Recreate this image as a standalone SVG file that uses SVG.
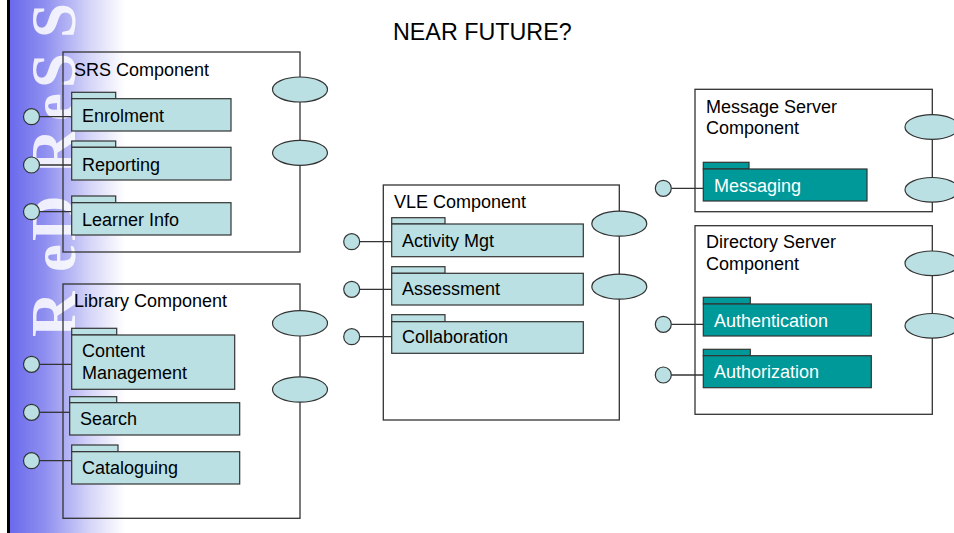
<svg xmlns="http://www.w3.org/2000/svg" width="954" height="533" viewBox="0 0 954 533">
<defs>
<linearGradient id="band" x1="0" y1="0" x2="1" y2="0">
<stop offset="0" stop-color="#6a6aec"/>
<stop offset="0.3" stop-color="#8e8ef0"/>
<stop offset="0.7" stop-color="#d6d6f8"/>
<stop offset="1" stop-color="#ffffff"/>
</linearGradient>
<style>
.box{fill:none;stroke:#333;stroke-width:1.3}
.pk{fill:#bbe0e3;stroke:#333;stroke-width:1.2}
.pkd{fill:#009999;stroke:#333;stroke-width:1.2}
.el{fill:#bbe0e3;stroke:#333;stroke-width:1.2}
.port{fill:#bbe0e3;stroke:#333;stroke-width:1.2}
.t{font-family:"Liberation Sans",Arial,sans-serif;font-size:18px;fill:#000}
.tw{font-family:"Liberation Sans",Arial,sans-serif;font-size:18px;fill:#fff}
.cn{stroke:#333;stroke-width:1.3;fill:none}
</style>
</defs>
<rect x="0" y="0" width="954" height="533" fill="#fff"/>
<g id="band-deco">
<rect x="10" y="0" width="115" height="533" fill="url(#band)"/>
<rect x="7" y="0" width="3" height="533" fill="#000"/>
<text transform="translate(75,0) rotate(-90)" font-family="'Liberation Serif','Times New Roman',serif" font-weight="bold" font-size="63" fill="#fff" fill-opacity="0.85" x="-337 -272 -241 -174 -121 -88 -38" y="0">ReDReSS</text>
</g>
<text id="title" x="393" y="40" font-family="'Liberation Sans',Arial,sans-serif" font-size="23.3" fill="#000">NEAR FUTURE?</text>

<g id="connectors">
<line class="cn" x1="39.5" y1="116.7" x2="71.7" y2="116.7"/>
<line class="cn" x1="39.5" y1="165" x2="71.7" y2="165"/>
<line class="cn" x1="39.5" y1="211.7" x2="71.7" y2="211.7"/>
<line class="cn" x1="39.5" y1="364.3" x2="71.7" y2="364.3"/>
<line class="cn" x1="39.5" y1="412.3" x2="69.7" y2="412.3"/>
<line class="cn" x1="39.5" y1="460.7" x2="71.7" y2="460.7"/>
<line class="cn" x1="359.7" y1="241.7" x2="391.7" y2="241.7"/>
<line class="cn" x1="359.7" y1="289.3" x2="391.7" y2="289.3"/>
<line class="cn" x1="359.7" y1="336.7" x2="391.7" y2="336.7"/>
<line class="cn" x1="671.3" y1="188.3" x2="703.3" y2="188.3"/>
<line class="cn" x1="671.3" y1="324.3" x2="703.3" y2="324.3"/>
<line class="cn" x1="671.3" y1="375" x2="703.3" y2="375"/>
</g>

<g id="srs">
<rect class="box" x="63" y="52" width="237" height="200"/>
<text class="t" x="74" y="76">SRS Component</text>
<ellipse class="el" cx="300" cy="89.5" rx="27.5" ry="12.5"/>
<ellipse class="el" cx="300" cy="152.8" rx="27.5" ry="12.5"/>
<g id="enrolment">
<rect class="pk" x="71.7" y="92.3" width="44" height="6.4"/>
<rect class="pk" x="71.7" y="98.7" width="159.3" height="32.3"/>
<text class="t" x="82" y="121.7">Enrolment</text>
<circle class="port" cx="31.5" cy="116.7" r="8"/>
</g>
<g id="reporting">
<rect class="pk" x="71.7" y="141" width="44" height="6.3"/>
<rect class="pk" x="71.7" y="147.3" width="159.3" height="32.7"/>
<text class="t" x="82" y="170.7">Reporting</text>
<circle class="port" cx="31.5" cy="165" r="8"/>
</g>
<g id="learner-info">
<rect class="pk" x="71.7" y="196" width="44" height="6.7"/>
<rect class="pk" x="71.7" y="202.7" width="159.3" height="32.3"/>
<text class="t" x="82" y="225.7">Learner Info</text>
<circle class="port" cx="31.5" cy="211.7" r="8"/>
</g>
</g>

<g id="library">
<rect class="box" x="63" y="284" width="237" height="234.3"/>
<text class="t" x="74" y="307.3">Library Component</text>
<ellipse class="el" cx="300" cy="323.3" rx="27.5" ry="12.7"/>
<ellipse class="el" cx="300" cy="389.5" rx="27.5" ry="12.7"/>
<g id="content-management">
<rect class="pk" x="71.7" y="328.3" width="45" height="6.7"/>
<rect class="pk" x="71.7" y="335" width="163" height="54.3"/>
<text class="t" x="82" y="357.3">Content</text>
<text class="t" x="82" y="379.3">Management</text>
<circle class="port" cx="31.5" cy="364.3" r="8"/>
</g>
<g id="search">
<rect class="pk" x="69.7" y="396.7" width="47" height="6"/>
<rect class="pk" x="69.7" y="402.7" width="170" height="32.3"/>
<text class="t" x="80" y="425">Search</text>
<circle class="port" cx="31.5" cy="412.3" r="8"/>
</g>
<g id="cataloguing">
<rect class="pk" x="71.7" y="445" width="46.3" height="6.7"/>
<rect class="pk" x="71.7" y="451.7" width="168" height="32.3"/>
<text class="t" x="82" y="474">Cataloguing</text>
<circle class="port" cx="31.5" cy="460.7" r="8"/>
</g>
</g>

<g id="vle">
<rect class="box" x="383.3" y="185" width="236" height="235"/>
<text class="t" x="394" y="208.3">VLE Component</text>
<ellipse class="el" cx="619.3" cy="223.7" rx="27.5" ry="12.5"/>
<ellipse class="el" cx="619.3" cy="286.7" rx="27.5" ry="12.5"/>
<g id="activity-mgt">
<rect class="pk" x="391.7" y="217.7" width="53.3" height="6.3"/>
<rect class="pk" x="391.7" y="224" width="191.6" height="32.7"/>
<text class="t" x="402" y="246.7">Activity Mgt</text>
<circle class="port" cx="351.7" cy="241.7" r="8"/>
</g>
<g id="assessment">
<rect class="pk" x="391.7" y="266.7" width="53.3" height="6.6"/>
<rect class="pk" x="391.7" y="273.3" width="191.6" height="31.7"/>
<text class="t" x="402" y="295">Assessment</text>
<circle class="port" cx="351.7" cy="289.3" r="8"/>
</g>
<g id="collaboration">
<rect class="pk" x="391.7" y="314.7" width="53.3" height="7"/>
<rect class="pk" x="391.7" y="321.7" width="191.6" height="31.6"/>
<text class="t" x="402" y="343.3">Collaboration</text>
<circle class="port" cx="351.7" cy="336.7" r="8"/>
</g>
</g>

<g id="message-server">
<rect class="box" x="695" y="89.3" width="237.3" height="122.4"/>
<text class="t" x="706" y="112.7">Message Server</text>
<text class="t" x="706" y="134.3">Component</text>
<ellipse class="el" cx="932" cy="127" rx="27" ry="12.3"/>
<ellipse class="el" cx="932" cy="189.8" rx="27" ry="12.3"/>
<g id="messaging">
<rect class="pkd" x="703.3" y="162.3" width="45.7" height="6.7"/>
<rect class="pkd" x="703.3" y="169" width="163.7" height="32"/>
<text class="tw" x="714" y="191.7">Messaging</text>
<circle class="port" cx="663.3" cy="188.3" r="8"/>
</g>
</g>

<g id="directory-server">
<rect class="box" x="695" y="225.7" width="237.3" height="188.6"/>
<text class="t" x="706" y="248.3">Directory Server</text>
<text class="t" x="706" y="270">Component</text>
<ellipse class="el" cx="932" cy="263.3" rx="27" ry="12.3"/>
<ellipse class="el" cx="932" cy="325.8" rx="27" ry="12.3"/>
<g id="authentication">
<rect class="pkd" x="703.3" y="297.3" width="47" height="6.7"/>
<rect class="pkd" x="703.3" y="304" width="168" height="32"/>
<text class="tw" x="714" y="326.7">Authentication</text>
<circle class="port" cx="663.3" cy="324.3" r="8"/>
</g>
<g id="authorization">
<rect class="pkd" x="703.3" y="349.3" width="47" height="6.4"/>
<rect class="pkd" x="703.3" y="355.7" width="168" height="32"/>
<text class="tw" x="714" y="378.3">Authorization</text>
<circle class="port" cx="663.3" cy="375" r="8"/>
</g>
</g>
</svg>
